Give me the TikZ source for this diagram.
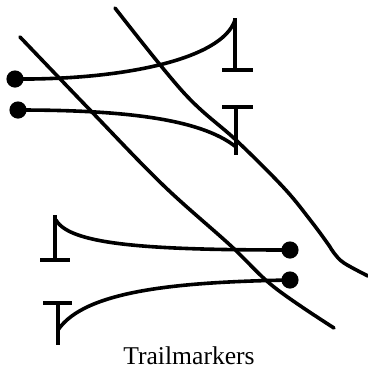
\documentclass[tikz,border=0pt]{standalone}
\usepackage{fontspec}
\setmainfont{Liberation Serif}
\usetikzlibrary{positioning}

\begin{document}
\begin{tikzpicture}[x=0.5pt, y=-0.5pt,
  trail/.style={line width=1.8pt, line cap=round},
  barline/.style={line width=1.9pt},
  dotend/.style={fill=black},
  caption/.style={font=\fontsize{12.8}{15}\selectfont}]

  \def\dr{4.3pt}

  \useasboundingbox (0,0) rectangle (368,376);

  % the two long track lines
  \draw[trail] plot[smooth, tension=0.6] coordinates
    {(20,37) (90,110) (163,185) (230,245) (274,287) (334,328)};
  \draw[trail] plot[smooth, tension=0.6] coordinates
    {(115,8) (184,93) (237,141) (284,188) (311,221) (328,244)
     (334,253) (344,263) (368,276)};

  % upper markers (dot on the left, bar on the right)
  \draw[trail] (15,79) .. controls (120,80) and (222,60) .. (235,20);
  \draw[barline] (235,18) -- (235,70);
  \draw[barline] (222,70) -- (253,70);
  \fill[dotend] (15,79) circle[radius=\dr];

  \draw[trail] (18,110) .. controls (120,110) and (200,118) .. (236,147);
  \draw[barline] (222,107) -- (253,107);
  \draw[barline] (236,107) -- (236,155);
  \fill[dotend] (18,110) circle[radius=\dr];

  % lower markers (bar on the left, dot on the right)
  \draw[trail] (56,220) .. controls (70,245) and (150,250) .. (290,250);
  \draw[barline] (55,215) -- (55,260);
  \draw[barline] (40,260) -- (70,260);
  \fill[dotend] (290,250) circle[radius=\dr];

  \draw[trail] (58,330) .. controls (85,290) and (180,282) .. (290,280);
  \draw[barline] (43,303) -- (72,303);
  \draw[barline] (58,303) -- (58,345);
  \fill[dotend] (290,280) circle[radius=\dr];

  \node[caption, anchor=base] (title) at (189,364) {Trailmarkers};

\end{tikzpicture}
\end{document}
